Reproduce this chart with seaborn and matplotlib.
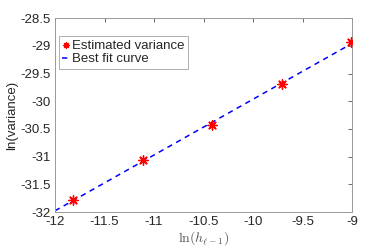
import numpy as np
import pandas as pd
import seaborn as sns
import matplotlib.pyplot as plt

# data
log_h = [-11.82, -11.11, -10.41, -9.71, -9.01]
log_var = [-31.78, -31.06, -30.43, -29.69, -28.93]
fit_x = [-12.0, -9.0]

df = pd.DataFrame({'log_h': log_h, 'log_var': log_var})
slope, icept = np.polyfit(df['log_h'], df['log_var'], 1)
fit = pd.DataFrame({'log_h': fit_x})
fit['log_var'] = slope * fit['log_h'] + icept

sns.set_style('white')
plt.rcParams['font.family'] = ['Liberation Sans', 'DejaVu Sans']
plt.rcParams['mathtext.fontset'] = 'cm'

fig = plt.figure(figsize=(3.9, 2.48), dpi=100)
ax = fig.add_axes([0.141, 0.145, 0.762, 0.782])

sns.lineplot(data=fit, x='log_h', y='log_var', ax=ax, color='blue',
             linestyle=(0, (3.5, 3)), linewidth=1.1, label='Best fit curve',
             zorder=2)
sns.scatterplot(data=df, x='log_h', y='log_var', ax=ax, color='red',
                marker=(8, 2, 0), s=45, linewidth=1.0, edgecolor='red',
                label='Estimated variance', zorder=3)

ax.set_xlim(-12, -9)
ax.set_ylim(-32, -28.5)
ax.set_xticks([-12, -11.5, -11, -10.5, -10, -9.5, -9])
ax.set_xticklabels(['-12', '-11.5', '-11', '-10.5', '-10', '-9.5', '-9'])
ax.set_yticks([-32, -31.5, -31, -30.5, -30, -29.5, -29, -28.5])
ax.set_yticklabels(['-32', '-31.5', '-31', '-30.5', '-30', '-29.5', '-29', '-28.5'])
ax.tick_params(direction='in', length=3, width=0.6, color='#555555',
               labelsize=9.5, top=True, right=True, pad=3)
for s in ax.spines.values():
    s.set_color('#999999')
    s.set_linewidth(0.7)

ax.set_xlabel(r'$\ln(h_{\ell-1})$', fontsize=10, color='#555555', labelpad=1)
ax.set_ylabel('ln(variance)', fontsize=9.5, labelpad=2)

h, l = ax.get_legend_handles_labels()
leg = ax.legend(h[::-1], l[::-1], loc='upper left', bbox_to_anchor=(0.005, 0.92),
                fontsize=9.5, frameon=True, fancybox=False, handlelength=0.5,
                handletextpad=0.25, borderpad=0.25, labelspacing=0.1,
                borderaxespad=0.2, markerscale=0.6)
leg.get_frame().set_edgecolor('#999999')
leg.get_frame().set_linewidth(0.7)

fig.savefig('out.png', dpi=100)
